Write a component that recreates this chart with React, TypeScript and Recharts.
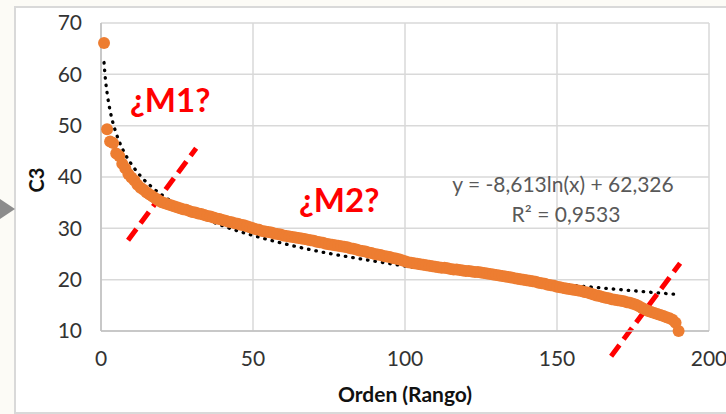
import React from 'react';
import { ComposedChart, Scatter, Line, XAxis, YAxis, CartesianGrid, ReferenceLine } from 'recharts';

// C3 values sorted by rank (Orden)
const c3Values = [
  66.1, 49.3, 46.9, 46.6, 44.6, 44.1, 42.6, 41.7, 40.6, 39.9,
  39.3, 38.5, 37.9, 37.5, 37.0, 36.6, 36.2, 35.8, 35.4, 35.1,
  34.9, 34.7, 34.5, 34.3, 34.1, 33.9, 33.7, 33.6, 33.4, 33.2,
  33.1, 32.9, 32.8, 32.6, 32.4, 32.3, 32.1, 31.9, 31.8, 31.6,
  31.5, 31.3, 31.2, 31.0, 30.9, 30.7, 30.6, 30.4, 30.2, 30.0,
  29.8, 29.7, 29.5, 29.4, 29.3, 29.2, 29.0, 28.9, 28.8, 28.6,
  28.5, 28.4, 28.3, 28.2, 28.1, 28.0, 27.9, 27.8, 27.7, 27.6,
  27.4, 27.3, 27.2, 27.0, 26.9, 26.8, 26.7, 26.6, 26.5, 26.4,
  26.3, 26.1, 26.0, 25.9, 25.7, 25.6, 25.5, 25.3, 25.2, 25.0,
  24.9, 24.8, 24.6, 24.5, 24.4, 24.2, 24.1, 24.0, 23.8, 23.6,
  23.4, 23.3, 23.2, 23.1, 23.0, 22.9, 22.8, 22.7, 22.6, 22.5,
  22.4, 22.3, 22.3, 22.2, 22.1, 22.0, 22.0, 21.9, 21.8, 21.7,
  21.7, 21.6, 21.5, 21.5, 21.4, 21.3, 21.2, 21.1, 21.0, 20.9,
  20.8, 20.7, 20.6, 20.5, 20.4, 20.3, 20.2, 20.1, 20.0, 19.9,
  19.8, 19.7, 19.6, 19.4, 19.3, 19.2, 19.0, 18.9, 18.8, 18.6,
  18.5, 18.4, 18.3, 18.2, 18.1, 18.0, 17.9, 17.8, 17.6, 17.5,
  17.3, 17.1, 16.9, 16.8, 16.6, 16.5, 16.4, 16.2, 16.1, 16.0,
  15.9, 15.8, 15.6, 15.5, 15.3, 15.1, 14.8, 14.5, 14.2, 13.9,
  13.7, 13.5, 13.3, 13.1, 12.9, 12.7, 12.5, 12.2, 11.6, 10.0,
];

// logarithmic trendline, points
const trendX = [1, 1.5, 2, 3, 4, 5, 6, 8, 10, 13, 17, 22, 30, 40, 55, 70, 90, 110, 130, 150, 170, 190];
const trendY = [62.3, 58.8, 56.4, 52.9, 50.4, 48.5, 46.9, 44.4, 42.5, 40.2, 37.9, 35.7, 33.0, 30.5, 27.8, 25.7, 23.6, 21.8, 20.4, 19.2, 18.1, 17.1];

const xTicks = [0, 50, 100, 150, 200];
const yTicks = [10, 20, 30, 40, 50, 60, 70];

// red dashed cut marks (data coordinates)
const cutLines = [
  [{ x: 8.9, y: 27.7 }, { x: 31.3, y: 45.6 }],
  [{ x: 167.8, y: 5.1 }, { x: 190.5, y: 23.2 }],
];

const equation = 'y = -8,613ln(x) + 62,326';
const rSquared = 'R² = 0,9533';

const points = c3Values.map((v, i) => ({ x: i + 1, y: v }));
const trend = trendX.map((x, i) => ({ x, y: trendY[i] }));

const FONT = 'Lato, "Open Sans", sans-serif';

const Dot = (props: any) => <circle cx={props.cx} cy={props.cy} r={6} fill="#ED7D31" />;

export default function App() {
  return (
    <div style={{ position: 'fixed', left: 0, top: 0, width: 726, height: 414, background: '#fcfbf6', overflow: 'hidden' }}>
      <div
        style={{
          position: 'absolute', left: 14, top: 6, width: 720, height: 404,
          background: '#fff', border: '2px solid #d9d9d9',
        }}
      />
      <div style={{ position: 'absolute', left: 0, top: 0 }}>
        <ComposedChart width={726} height={414} margin={{ top: 23, right: 17, bottom: 0, left: 0 }}>
          <CartesianGrid stroke="#d9d9d9" strokeWidth={1.5} />
          <XAxis
            type="number"
            dataKey="x"
            domain={[0, 200]}
            ticks={xTicks}
            height={83}
            tickLine={false}
            tickMargin={14}
            axisLine={{ stroke: '#bfbfbf', strokeWidth: 1.5 }}
            tick={{ fill: '#333', fontSize: 21, fontFamily: FONT }}
          />
          <YAxis
            type="number"
            dataKey="y"
            domain={[10, 70]}
            ticks={yTicks}
            width={101}
            tickLine={false}
            tickMargin={13}
            axisLine={{ stroke: '#bfbfbf', strokeWidth: 1.5 }}
            tick={{ fill: '#333', fontSize: 21, fontFamily: FONT }}
          />
          <Scatter data={points} dataKey="y" shape={Dot} isAnimationActive={false} />
          <Line
            data={trend}
            dataKey="y"
            type="monotone"
            stroke="#000"
            strokeWidth={3.3}
            strokeLinecap="round"
            strokeDasharray="0.5 7"
            dot={false}
            activeDot={false}
            isAnimationActive={false}
          />
          {cutLines.map((seg, i) => (
            <ReferenceLine
              key={i}
              segment={seg}
              stroke="#ff0000"
              strokeWidth={5}
              strokeDasharray="14 7"
              ifOverflow="visible"
            />
          ))}
        </ComposedChart>
      </div>
      <svg width={726} height={414} style={{ position: 'absolute', left: 0, top: 0, pointerEvents: 'none' }}>
        <polygon points="0,199 15,209 0,219" fill="#8c8c8c" />
        <text
          x={0}
          y={0}
          transform="translate(44,180) rotate(-90)"
          textAnchor="middle"
          fontFamily={FONT}
          fontWeight="bold"
          fontSize={20}
          fill="#111"
        >
          C3
        </text>
        <text x={405} y={402} textAnchor="middle" fontFamily={FONT} fontWeight="bold" fontSize={21} fill="#111">
          Orden (Rango)
        </text>
        <text x={130} y={112} fontFamily={FONT} fontWeight="bold" fontSize={33} fill="#ff0000">
          ¿M1?
        </text>
        <text x={299} y={212} fontFamily={FONT} fontWeight="bold" fontSize={33} fill="#ff0000">
          ¿M2?
        </text>
        <text x={563} y={192} textAnchor="middle" fontFamily={FONT} fontSize={21} fill="#595959">
          {equation}
        </text>
        <text x={566} y={222} textAnchor="middle" fontFamily={FONT} fontSize={21} fill="#595959">
          {rSquared}
        </text>
      </svg>
    </div>
  );
}
